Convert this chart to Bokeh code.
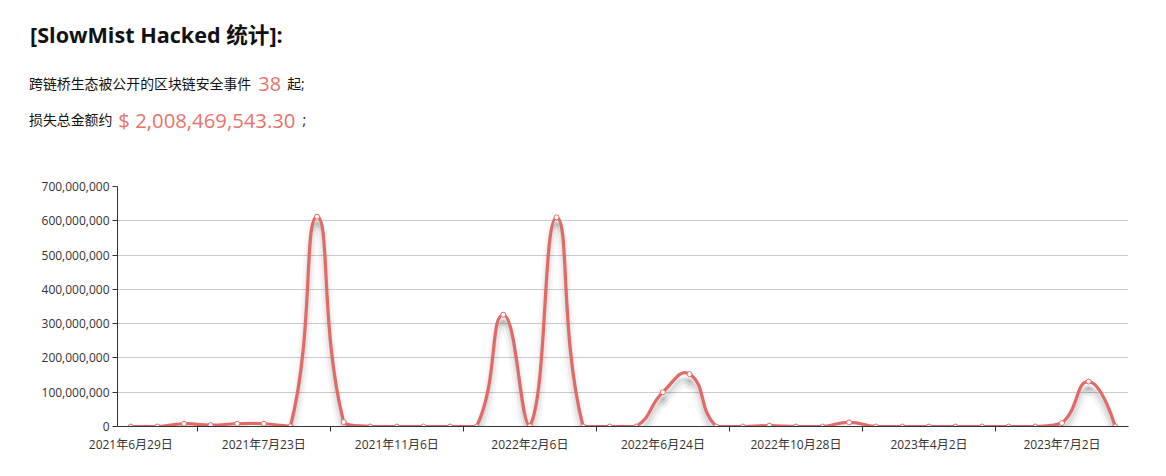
import numpy as np
from bokeh.plotting import figure
from bokeh.layouts import column
from bokeh.models import Div, Range1d, FixedTicker, NumeralTickFormatter
from bokeh.embed import file_html
from bokeh.resources import INLINE

# ---------------- data ----------------
title_text = "[SlowMist Hacked 统计]:"
line1_pre = "跨链桥生态被公开的区块链安全事件"
event_count = "38"
line1_post = "起;"
line2_pre = "损失总金额约"
total_loss = "$ 2,008,469,543.30"
line2_post = ";"

# 38 incidents (category index); only every 5th date label is shown
label_positions = [0, 5, 10, 15, 20, 25, 30, 35]
date_labels = ["2021年6月29日", "2021年7月23日", "2021年11月6日", "2022年2月6日",
               "2022年6月24日", "2022年10月28日", "2023年4月2日", "2023年7月2日"]
loss_values = [0, 0, 8e6, 4e6, 8e6, 8e6, 0.5e6, 612e6, 13e6, 0,
               0, 0, 0, 0, 326e6, 1e6, 610e6, 0, 0, 0,
               100e6, 153e6, 0, 0, 2.5e6, 0, 0, 12e6, 0, 0,
               0, 0, 0, 0, 0, 10e6, 131e6, 0]
y_ticks = [0, 100e6, 200e6, 300e6, 400e6, 500e6, 600e6, 700e6]

RED = "#e26a66"
TXT_RED = "#e8736c"

n = len(loss_values)
xs = np.arange(n, dtype=float)
ys = np.array(loss_values, dtype=float)

# ---------------- header ----------------
font = "'Open Sans', 'Noto Sans CJK SC', sans-serif"
html = f"""
<div style="position:relative;width:1150px;height:142px;font-family:{font};color:#111;">
  <div style="position:absolute;left:22px;top:16px;font-size:21.6px;line-height:21px;font-weight:bold;white-space:nowrap;">{title_text}</div>
  <div style="position:absolute;left:21px;top:66px;height:20px;display:flex;align-items:center;white-space:nowrap;font-size:13.9px;">
    <span>{line1_pre}</span><span style="color:{TXT_RED};font-size:20px;margin:0 6px 0 7px;">{event_count}</span><span>{line1_post}</span>
  </div>
  <div style="position:absolute;left:21px;top:102px;height:20px;display:flex;align-items:center;white-space:nowrap;font-size:13.9px;">
    <span>{line2_pre}</span><span style="color:{TXT_RED};font-size:20.3px;margin:0 7px 0 6px;">{total_loss}</span><span>{line2_post}</span>
  </div>
</div>
"""
div = Div(text=html, width=1150, height=142, margin=0)

# ---------------- chart ----------------
W, H = 1150, 316
ML, MR, MT, MB = 109, 30, 36, 40
FW, FH = W - ML - MR, H - MT - MB

p = figure(width=W, height=H, output_backend="svg", toolbar_location=None,
           x_range=Range1d(-0.5, n - 0.5), y_range=Range1d(0, 700e6),
           min_border_left=ML, min_border_right=MR, min_border_top=MT, min_border_bottom=MB,
           margin=0)
p.outline_line_color = None
p.background_fill_color = "white"
p.xgrid.grid_line_color = None
p.ygrid.grid_line_color = "#cccccc"
p.ygrid.ticker = FixedTicker(ticks=y_ticks)

axis_font = "'Open Sans', 'Noto Sans CJK SC'"
# y axis
p.yaxis.ticker = FixedTicker(ticks=y_ticks)
p.yaxis.formatter = NumeralTickFormatter(format="0,0")
p.yaxis.axis_line_color = "#333333"
p.yaxis.major_tick_line_color = "#333333"
p.yaxis.major_tick_out = 5
p.yaxis.major_tick_in = 0
p.yaxis.minor_tick_line_color = None
p.yaxis.major_label_standoff = 3
p.yaxis.major_label_text_font = axis_font
p.yaxis.major_label_text_font_size = "12px"
p.yaxis.major_label_text_color = "#333333"

# x axis
minor = [k + 2.5 for k in label_positions[:-1]]
p.xaxis.ticker = FixedTicker(ticks=label_positions, minor_ticks=minor)
p.xaxis.major_label_overrides = {k: lab for k, lab in zip(label_positions, date_labels)}
p.xaxis.axis_line_color = "#333333"
p.xaxis.major_tick_out = 0
p.xaxis.major_tick_in = 0
p.xaxis.minor_tick_out = 5
p.xaxis.minor_tick_in = 0
p.xaxis.minor_tick_line_color = "#333333"
p.xaxis.major_label_standoff = 4
p.xaxis.major_label_text_font = axis_font
p.xaxis.major_label_text_font_size = "12px"
p.xaxis.major_label_text_color = "#333333"

# ---- smooth curve (ECharts-like smoothing computed in pixel space) ----
sx = FW / n
sy = FH / 700e6
px = (xs + 0.5) * sx
py = ys * sy
smooth = 0.5
ymin, ymax = py.min(), py.max()
x0s, y0s, x1s, y1s, c0x, c0y, c1x, c1y = [], [], [], [], [], [], [], []
cpx0, cpy0 = px[0], py[0]
for k in range(1, n):
    x, y = px[k], py[k]
    prevx, prevy = px[k - 1], py[k - 1]
    if k == n - 1:
        ratio = 0.5
        vx = vy = 0.0
        ncx, ncy = x, y
    else:
        nx, ny = px[k + 1], py[k + 1]
        vx, vy = nx - prevx, ny - prevy
        l0 = np.hypot(x - prevx, y - prevy)
        l1 = np.hypot(nx - x, ny - y)
        ratio = l1 / (l0 + l1)
        ncx = x + vx * smooth * ratio
        ncy = y + vy * smooth * ratio
    cpx1 = x - vx * smooth * (1 - ratio)
    cpy1 = y - vy * smooth * (1 - ratio)
    x0s.append(prevx); y0s.append(prevy); x1s.append(x); y1s.append(y)
    c0x.append(cpx0); c0y.append(min(max(cpy0, ymin), ymax))
    c1x.append(cpx1); c1y.append(min(max(cpy1, ymin), ymax))
    cpx0, cpy0 = ncx, ncy

def to_data(arr_x, arr_y, dy_px=0.0):
    return (np.array(arr_x) / sx - 0.5, (np.array(arr_y) - dy_px) / sy)

def draw(dy_px, color, alpha, width):
    X0, Y0 = to_data(x0s, y0s, dy_px)
    X1, Y1 = to_data(x1s, y1s, dy_px)
    CX0, CY0 = to_data(c0x, c0y, dy_px)
    CX1, CY1 = to_data(c1x, c1y, dy_px)
    p.bezier(x0=X0, y0=Y0, x1=X1, y1=Y1, cx0=CX0, cy0=CY0, cx1=CX1, cy1=CY1,
             line_color=color, line_alpha=alpha, line_width=width, line_cap="round")

# soft shadow under the line
draw(9, "#000000", 0.035, 12)
draw(8, "#000000", 0.05, 7)
draw(7, "#000000", 0.06, 3)
# main line
draw(0, RED, 1.0, 3.2)

p.scatter(x=xs, y=ys, size=5, marker="circle", fill_color="white",
          line_color=RED, line_width=1)

layout = column(div, p, spacing=0, margin=(8, 8, 8, 8))
open("out.html", "w").write(file_html(layout, INLINE))
